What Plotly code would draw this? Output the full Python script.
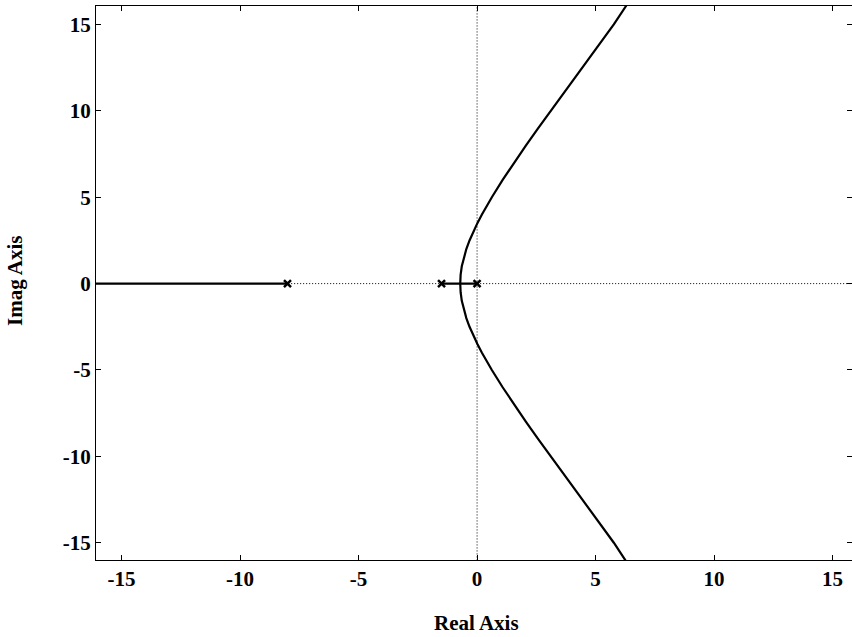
import plotly.graph_objects as go

# Root locus data
poles_re = [-8.0, -1.5, 0.0]
poles_im = [0.0, 0.0, 0.0]

# upper complex branch (real, imag); lower branch is its mirror
branch_im = [0.0, 0.5, 1.0, 1.5, 2.0, 2.5, 3.0, 3.5, 4.0, 5.0, 6.0, 7.0, 8.0, 9.0,
             10.0, 11.0, 12.0, 13.0, 14.0, 15.0, 16.1]
branch_re = [-0.71, -0.695, -0.645, -0.563, -0.454, -0.319, -0.162, 0.013, 0.204, 0.623,
             1.079, 1.562, 2.064, 2.58, 3.107, 3.64, 4.18, 4.72, 5.25, 5.77, 6.30]

# real-axis branches
left_re = [-16.2, -8.0]
left_im = [0.0, 0.0]
mid_re = [-1.5, 0.0]
mid_im = [0.0, 0.0]

x_ticks = [-15, -10, -5, 0, 5, 10, 15]
y_ticks = [-15, -10, -5, 0, 5, 10, 15]

L, R, T, B = 96, 0, 6, 77
W, H = 852, 637
pw, ph = W - L - R, H - T - B

fig = go.Figure()

dot = dict(color="black", width=1, dash="1px,2px")
fig.add_trace(go.Scatter(x=[-16.2, 16.2], y=[0, 0], mode="lines", line=dot, hoverinfo="skip"))
fig.add_trace(go.Scatter(x=[0, 0], y=[-16.2, 16.2], mode="lines", line=dot, hoverinfo="skip"))

solid = dict(color="black", width=2.2)
fig.add_trace(go.Scatter(x=left_re, y=left_im, mode="lines", line=solid))
fig.add_trace(go.Scatter(x=mid_re, y=mid_im, mode="lines", line=solid))
fig.add_trace(go.Scatter(x=branch_re, y=branch_im, mode="lines", line=solid))
fig.add_trace(go.Scatter(x=branch_re, y=[-v for v in branch_im], mode="lines", line=solid))

fig.add_trace(go.Scatter(x=poles_re, y=poles_im, mode="markers",
                         marker=dict(symbol="x-thin", size=7, color="black",
                                     line=dict(color="black", width=2.5))))

ff = "Liberation Serif"
fig.update_layout(
    width=W, height=H,
    margin=dict(l=L, r=R, t=T, b=B),
    paper_bgcolor="white", plot_bgcolor="white",
    showlegend=False,
    font=dict(family=ff, color="black", size=21, weight="bold"),
    annotations=[
        dict(text="Real Axis", xref="paper", yref="paper",
             x=(476 - L) / pw, y=(H - B - 623) / ph, showarrow=False,
             xanchor="center", yanchor="middle",
             font=dict(family=ff, size=21, weight="bold", color="black")),
        dict(text="Imag Axis", xref="paper", yref="paper", textangle=-90,
             x=(15 - L) / pw, y=(H - B - 281) / ph, showarrow=False,
             xanchor="center", yanchor="middle",
             font=dict(family=ff, size=21, weight="bold", color="black")),
    ],
)
axis_common = dict(
    ticks="inside", ticklen=5, tickcolor="black", showline=True, linecolor="black", linewidth=1,
    mirror="ticks", showgrid=False, zeroline=False, automargin=False,
    tickfont=dict(family=ff, size=21, weight="bold", color="black"),
)
fig.update_xaxes(range=[-16.08, 15.82], tickvals=x_ticks, ticktext=[str(v) for v in x_ticks], **axis_common)
fig.update_yaxes(range=[-16.0, 16.07], tickvals=y_ticks, ticktext=[str(v) for v in y_ticks], **axis_common)

fig.write_html("out.html", config={"displayModeBar": False},
               post_script="document.body.style.margin='0';document.body.style.overflow='hidden';")
